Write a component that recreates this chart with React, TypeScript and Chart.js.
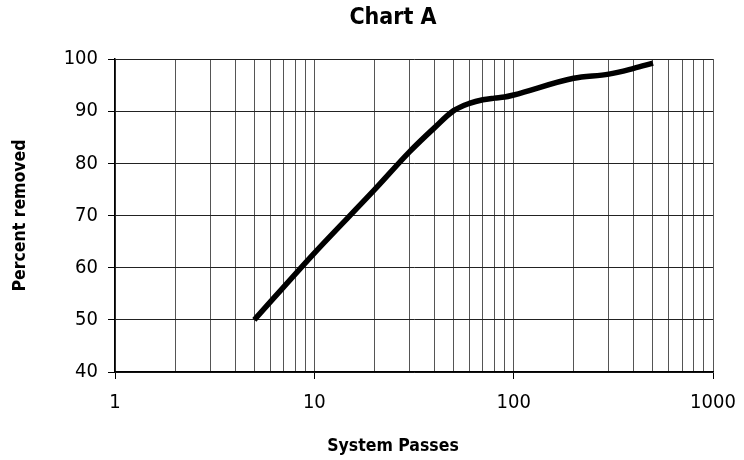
import React, { useEffect, useRef } from "react";
import { Chart, registerables } from "chart.js";

Chart.register(...registerables);

const passes = [5, 10, 20, 30, 40, 50, 60, 70, 80, 90, 100, 200, 300, 400, 500];
const percentRemoved = [50, 62.8, 74.9, 82.2, 86.8, 90.1, 91.5, 92.2, 92.5, 92.7, 93.1, 96.3, 97.1, 98.2, 99.2];
const xTickValues = [1, 2, 3, 4, 5, 6, 7, 8, 9, 10, 20, 30, 40, 50, 60, 70, 80, 90, 100, 200, 300, 400, 500, 600, 700, 800, 900, 1000];
const xLabeled = [1, 10, 100, 1000];
const yMin = 40;
const yMax = 100;
const yStep = 10;
const chartTitle = "Chart A";
const xTitle = "System Passes";
const yTitle = "Percent removed";

const FONT = "'DejaVu Sans Condensed', 'Liberation Sans Narrow', sans-serif";

const titlesPlugin = {
  id: "offsetTitles",
  afterDraw(chart: any) {
    const ctx = chart.ctx;
    ctx.save();
    ctx.fillStyle = "#000";
    ctx.textAlign = "center";
    ctx.textBaseline = "middle";
    ctx.font = `bold 23px ${FONT}`;
    ctx.fillText(chartTitle, 393, 18);
    ctx.font = `bold 17.5px ${FONT}`;
    ctx.fillText(xTitle, 393, 446);
    ctx.restore();
  },
};

export default function App() {
  const ref = useRef<HTMLCanvasElement | null>(null);
  useEffect(() => {
    if (!ref.current) return;
    const chart = new Chart(ref.current, {
      type: "line",
      data: {
        datasets: [
          {
            data: passes.map((x, i) => ({ x, y: percentRemoved[i] })),
            borderColor: "#000",
            borderWidth: 5.5,
            pointRadius: 0,
            tension: 0.4,
            cubicInterpolationMode: "monotone",
            fill: false,
          },
        ],
      },
      plugins: [titlesPlugin],
      options: {
        animation: false,
        responsive: false,
        maintainAspectRatio: false,
        layout: { padding: { top: 59, right: 31, left: 10, bottom: 0 } },
        plugins: {
          legend: { display: false },
          tooltip: { enabled: false },
          title: { display: false },
        },
        scales: {
          x: {
            type: "logarithmic",
            min: 1,
            max: 1000,
            afterBuildTicks: (scale: any) => {
              scale.ticks = xTickValues.map((v) => ({ value: v, major: xLabeled.includes(v) }));
            },
            afterFit: (scale: any) => {
              scale.height = 88;
              scale.paddingRight = 0;
              scale.paddingLeft = 0;
            },
            ticks: {
              autoSkip: false,
              maxRotation: 0,
              color: "#000",
              font: { family: FONT, size: 20 },
              padding: 12,
              callback: (v: any) => (xLabeled.includes(Number(v)) ? String(v) : ""),
            },
            grid: {
              color: "#555",
              lineWidth: 1,
              tickLength: 7,
              tickColor: (ctx: any) => (ctx.tick && xLabeled.includes(ctx.tick.value) ? "#000" : "rgba(0,0,0,0)"),
            },
            border: { color: "#000", width: 1.5 },
            title: { display: false, text: xTitle },
          },
          y: {
            min: yMin,
            max: yMax,
            afterFit: (scale: any) => {
              scale.width = 105;
            },
            ticks: {
              stepSize: yStep,
              color: "#000",
              font: { family: FONT, size: 20 },
              padding: 10,
            },
            grid: { color: "#222", lineWidth: 1, tickLength: 7, tickColor: "#000" },
            border: { color: "#000", width: 1.5 },
            title: {
              display: true,
              text: yTitle,
              color: "#000",
              font: { family: FONT, size: 17.5, weight: "bold" },
              padding: { top: 0, bottom: 0 },
            },
          },
        },
      },
    } as any);
    return () => chart.destroy();
  }, []);
  return (
    <div style={{ position: "fixed", left: 0, top: 0, width: 744, height: 460, background: "#fff" }}>
      <canvas ref={ref} width={744} height={460} style={{ width: 744, height: 460 }} />
    </div>
  );
}
